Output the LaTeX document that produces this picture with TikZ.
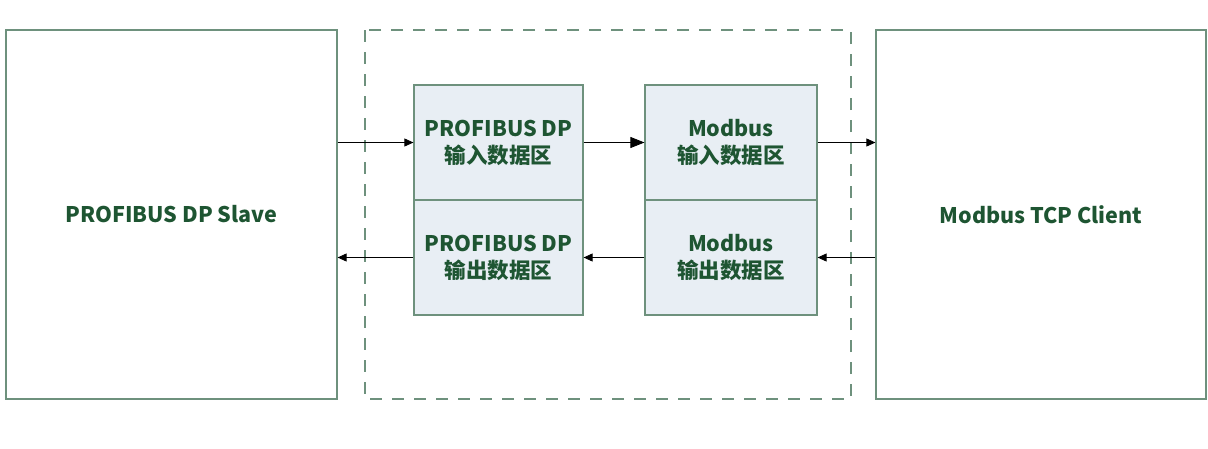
\documentclass[tikz,border=0pt]{standalone}
\usepackage{fontspec}
\setmainfont{Noto Sans CJK SC}
\usetikzlibrary{arrows.meta}
\definecolor{txtgreen}{RGB}{30,85,50}
\definecolor{boxline}{RGB}{110,145,125}
\definecolor{boxfill}{RGB}{232,238,244}
\begin{document}
\begin{tikzpicture}[x=1pt,y=-1pt,
  bigbox/.style={draw=boxline,line width=1.2pt,minimum width=331pt,minimum height=369pt,inner sep=0pt,
    font=\fontsize{21.5}{26}\selectfont\bfseries,text=txtgreen},
  areabox/.style={draw=boxline,line width=1.2pt,fill=boxfill,minimum height=115pt,inner sep=0pt,
    align=center,font=\fontsize{21.5}{27}\selectfont\bfseries,text=txtgreen},
  arr/.style={-{Triangle[length=9pt,width=8pt]},line width=0.8pt,black},
  bigarr/.style={-{Triangle[length=14pt,width=11pt]},line width=0.8pt,black}]
\useasboundingbox (0,0) rectangle (1208,448);
\draw[boxline,line width=1.2pt,dash pattern=on 12pt off 10pt] (365,30) rectangle (851,399);
\node[bigbox] (L) at (171.5,214.5) {PROFIBUS DP Slave};
\node[bigbox,minimum width=330pt] (R) at (1041,214.5) {Modbus TCP Client};
\node[areabox,minimum width=169pt] (PI) at (498.5,142.5) {PROFIBUS DP\\输入数据区};
\node[areabox,minimum width=169pt] (PO) at (498.5,257.5) {PROFIBUS DP\\输出数据区};
\node[areabox,minimum width=172pt] (MI) at (731,142.5) {Modbus\\输入数据区};
\node[areabox,minimum width=172pt] (MO) at (731,257.5) {Modbus\\输出数据区};
\draw[arr] (L.east |- PI.west) -- (PI.west);
\draw[bigarr] (PI.east) -- (MI.west);
\draw[arr] (MI.east) -- (R.west |- MI.east);
\draw[arr] (R.west |- MO.east) -- (MO.east);
\draw[arr] (MO.west) -- (PO.east);
\draw[arr] (PO.west) -- (L.east |- PO.west);
\end{tikzpicture}
\end{document}
